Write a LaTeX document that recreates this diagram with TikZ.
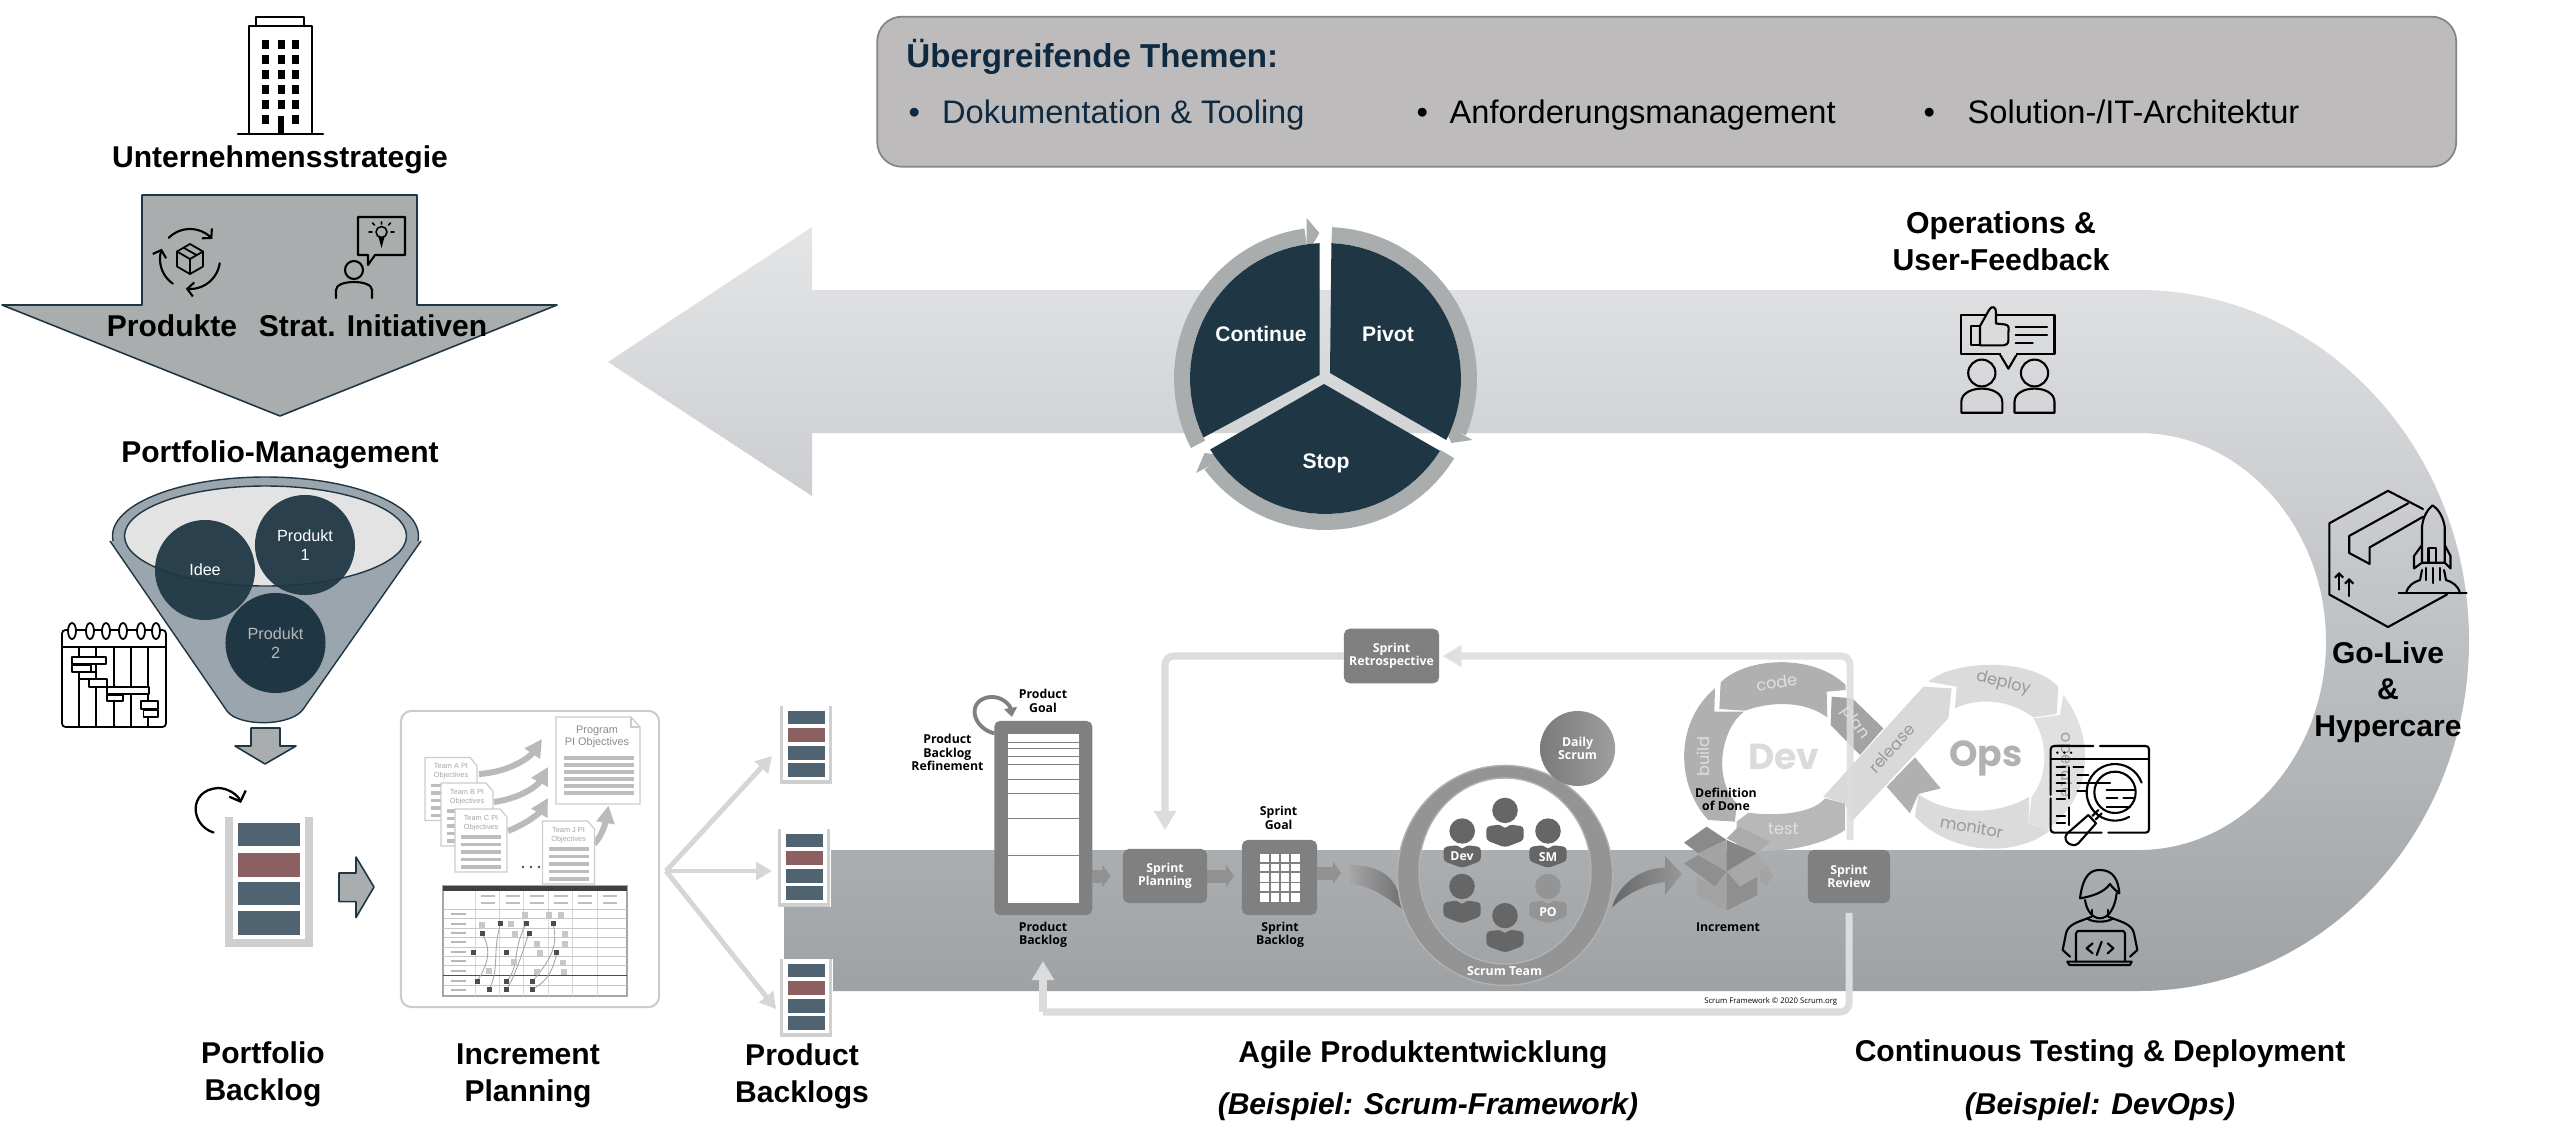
\documentclass[tikz,border=0pt]{standalone}
\usepackage{fontspec}
\setmainfont{Liberation Sans}
\newfontfamily\scrumfont{Open Sans}
\newfontfamily\devopsfont{Poppins}
\usetikzlibrary{arrows.meta}
\definecolor{navy}{HTML}{1F3744}
\definecolor{titleblue}{HTML}{0F2A40}
\definecolor{arrowgrey}{HTML}{A9ADAE}
\definecolor{funnelgrey}{HTML}{9AA5AD}
\definecolor{stackblue}{HTML}{4F6370}
\definecolor{stackred}{HTML}{8C6060}
\definecolor{stackedge}{HTML}{CFCFCF}
\definecolor{boxgrey}{HTML}{808080}
\definecolor{fbgrey}{HTML}{DCDCDC}
\definecolor{docgrey}{HTML}{BDBDBD}
\definecolor{themegrey}{HTML}{BDBBBC}
\definecolor{bandtop}{HTML}{E4E5E7}
\definecolor{bandbottom}{HTML}{9EA2A5}
\tikzset{
  lab/.style={font=\bfseries\fontsize{8.55}{10.5}\selectfont,inner sep=0pt,align=center,yshift=-1.1pt},
  labit/.style={font=\bfseries\itshape\fontsize{8.55}{10.5}\selectfont,inner sep=0pt,align=center,yshift=-.8pt},
  whitelab/.style={font=\bfseries\fontsize{6}{7}\selectfont,inner sep=0pt,text=white,yshift=-.3pt},
  topic/.style={font=\fontsize{9.27}{11}\selectfont,inner sep=0pt,anchor=base west},
  tinylab/.style={font=\scrumfont\bfseries\fontsize{3.5}{3.85}\selectfont,inner sep=0pt,align=center},
  scrumbox/.style={tinylab,text=white,fill=boxgrey,rounded corners=1.6pt,outer sep=0pt},
  doctext/.style={font=\fontsize{2.1}{2.5}\selectfont,inner sep=0pt,align=center,text=black!35},
  devlab/.style={font=\devopsfont\fontsize{4.6}{5}\selectfont,inner sep=0pt,text=white!88!black},
  icon/.style={line width=.6pt,line join=round,line cap=round},
  bigarrow/.style={fill=arrowgrey,draw=navy,line width=.45pt,line join=round},
  fbline/.style={draw=fbgrey,line width=2pt,rounded corners=2.5pt,-{Triangle[length=5.4pt,width=6pt]}},
  fanline/.style={draw=black!16,line width=1.4pt,-{Triangle[length=4.5pt,width=5pt]}},
  flow/.style={draw=black!43,line width=3.7pt,-{Triangle[length=2.3pt,width=6.3pt]}},
  docarrow/.style={draw=black!27,line width=1.7pt,-{Triangle[length=5pt,width=5pt]}},
}
\begin{document}
\begin{tikzpicture}[x=0.01cm,y=-0.01cm]
\useasboundingbox (0,0) rectangle (2560,1139);

\path (1666.7,91.7) node[draw=black!48,fill=themegrey,line width=.5pt,rounded corners=7pt,minimum width=15.78cm,minimum height=1.5cm] (themes){};
\path (905.7,67) node[topic,font=\bfseries\fontsize{9.42}{11}\selectfont,text=titleblue] (themetitle){Übergreifende Themen:};
\path (908,123) node[topic,text=titleblue] (bulletA){•};
\path (941.4,123) node[topic,text=titleblue] (topicA){Dokumentation \& Tooling};
\path (1416,123) node[topic] (bulletB){•};
\path (1449,123) node[topic] (topicB){Anforderungsmanagement};
\path (1923,123) node[topic] (bulletC){•};
\path (1967,123) node[topic] (topicC){Solution-/IT-Architektur};

\shade[top color=bandtop,bottom color=bandbottom] (608,362) -- (812,227) -- (812,290) -- (2139,290)
  .. controls (2321,290) and (2469,447) .. (2469,640.5) .. controls (2469,834) and (2321,991) .. (2139,991)
  -- (784,991) -- (784,850) -- (2139,850)
  .. controls (2242,850) and (2326,756) .. (2326,641.5) .. controls (2326,527) and (2242,433) .. (2139,433)
  -- (812,433) -- (812,496) -- cycle;

\foreach \ua/\ub in {207.3/98,87.5/-22,-31.8/-143} {
  \fill[arrowgrey] plot[domain=\ua:\ub,samples=30] ({1325.5+151.5*cos(\x)},{378.5-151.5*sin(\x)})
    -- plot[domain=\ub:\ua,samples=30] ({1325.5+135.5*cos(\x)},{378.5-135.5*sin(\x)}) -- cycle;
}
\fill[arrowgrey] (1306.6,218) -- (1319.4,233) -- (1306.6,255) -- cycle;
\fill[arrowgrey] (1441.8,422.7) -- (1451.4,443) -- (1472.4,440) -- cycle;
\fill[arrowgrey] (1228,456) -- (1204.6,453) -- (1196,473) -- cycle;
\fill[navy] (1319.5,375) -- plot[domain=205.8:92.5,samples=30] ({1325.5+135.5*cos(\x)},{378.5-135.5*sin(\x)}) -- cycle;
\fill[navy] (1330,373) -- plot[domain=87.5:-27,samples=30] ({1325.5+135.5*cos(\x)},{378.5-135.5*sin(\x)}) -- cycle;
\fill[navy] (1324,384) -- plot[domain=-32.3:-148.4,samples=30] ({1325.5+135.5*cos(\x)},{378.5-135.5*sin(\x)}) -- cycle;
\path (1261,333) node[whitelab] (continue){Continue};
\path (1388,333) node[whitelab] (pivot){Pivot};
\path (1326,462) node[whitelab] (stop){Stop};

\draw[icon,line width=.75pt] (249,134) -- (249,26) -- (312,26) -- (312,134);
\draw[icon,line width=.75pt] (256,26) -- (256,17) -- (304,17) -- (304,26);
\draw[icon,line width=.75pt] (238,134) -- (323,134);
\foreach \wx in {265,281,295} {
  \foreach \wy in {44,59,74,89,104,119} {
    \fill ({\wx-3.5},{\wy-4.5}) rectangle ({\wx+3.5},{\wy+4.5});
  }
}
\fill[white] (276,112) rectangle (286,124);
\fill (278,116) rectangle (284,134);
\path (280,156) node[lab] (strategy){Unternehmensstrategie};

\draw[bigarrow] (142,195) -- (417,195) -- (417,305) -- (557,305) -- (280,416) -- (2,305) -- (142,305) -- cycle;
\foreach \ua/\ub in {135/42,-8/-98,-125/-200} {
  \draw[icon,-{Straight Barb[length=1.8pt,width=4pt]}] plot[domain=\ua:\ub,samples=20] ({190+30*cos(\x)},{259-30*sin(\x)});
}
\draw[icon,line width=.5pt] (190,244) -- (203,251.5) -- (203,266.5) -- (190,274) -- (177,266.5) -- (177,251.5) -- cycle;
\draw[icon,line width=.5pt] (177,251.5) -- (190,259) -- (203,251.5) (190,259) -- (190,274) (183.5,247.7) -- (196.5,255);
\draw[icon] (354,270) circle [radius=9];
\draw[icon] (336,298) -- (336,290) .. controls (336,285) and (344,282) .. (354,282) .. controls (364,282) and (372,285) .. (372,290) -- (372,298);
\draw[icon] (358,255) -- (358,217) -- (405,217) -- (405,255) -- (375,255) -- (368,265) -- (368,255) -- cycle;
\draw[icon,line width=.45pt] (381.5,232) circle [radius=5.5];
\fill (378.5,237) -- (384.5,237) -- (381.5,248) -- cycle;
\draw[icon,line width=.45pt] (381.5,222) -- (381.5,224) (372,232) -- (369,232) (391,232) -- (394,232) (374.5,225) -- (372.5,223) (388.5,225) -- (390.5,223);
\path (172,322) node[lab] (products){Produkte};
\path (373,322) node[lab] (initiatives){Strat. Initiativen};
\path (280,451) node[lab] (portfolio){Portfolio-Management};

\draw[fill=funnelgrey,draw=navy,line width=.4pt] (265.5,536) ellipse [x radius=153,y radius=59];
\fill[funnelgrey] (110,541) -- (227,711) .. controls (238,727) and (293,727) .. (304,708) -- (421,541) -- cycle;
\draw[navy,line width=.4pt] (110,541) -- (227,711) .. controls (238,727) and (293,727) .. (304,708) -- (421,541);
\draw[fill=black!11,draw=navy,line width=.4pt] (265.5,536) ellipse [x radius=141,y radius=50];
\path (205,570) node[circle,minimum size=1cm,inner sep=0pt,fill=navy,fill opacity=.94,text opacity=1,text=white,font=\fontsize{4.6}{5.4}\selectfont,align=center] (idee){Idee};
\path (305,545) node[circle,minimum size=1cm,inner sep=0pt,fill=navy,fill opacity=.94,text opacity=1,text=white,font=\fontsize{4.6}{5.4}\selectfont,align=center] (prodA){Produkt\\1};
\path (275.5,643) node[circle,minimum size=1cm,inner sep=0pt,fill=navy,text=black!28,font=\fontsize{4.6}{5.4}\selectfont,align=center] (prodB){Produkt\\2};

\draw[icon,rounded corners=1pt,line width=.5pt] (62,630) rectangle (166,727);
\draw[icon,line width=.5pt] (62,647) -- (166,647);
\foreach \vx in {79,96,114,131,148} {
  \draw[icon,line width=.5pt] (\vx,647) -- (\vx,727);
}
\foreach \rx in {72,90,106,123,141,156} {
  \draw[icon,line width=.5pt,fill=white] (\rx,631) ellipse [x radius=4,y radius=8];
}
\foreach \xa/\ya/\xb/\yb in {72/657/106/664,72/665/91/672,79/672/96/679,89/679/107/687,107/687/149/694,107/695/123/701,141/701/158/709,143.5/710/158/717} {
  \draw[icon,line width=.5pt,fill=white] (\xa,\ya) rectangle (\xb,\yb);
}

\draw[bigarrow] (251,728) -- (280,728) -- (280,746) -- (296,746) -- (265,764) -- (235,746) -- (251,746) -- cycle;
\draw[icon,line width=.65pt,-{Straight Barb[length=2.4pt,width=5pt]}] (213.5,832.5) .. controls (190,825) and (188,790) .. (218,788) .. controls (228,788) and (238,795) .. (241,803);
\draw[stackedge,line width=2pt] (229,817) -- (229,943) -- (309,943) -- (309,817);
\foreach \by/\bh/\bc in {823/23/stackblue,852.5/24/stackred,882/23/stackblue,911/24/stackblue} {
  \fill[\bc] (238,\by) rectangle (300,{\by+\bh});
}
\draw[bigarrow] (339,873) -- (356,873) -- (356,857) -- (374,887) -- (356,917.5) -- (356,901.6) -- (339,901.6) -- cycle;
\path (263,1070.5) node[lab] (pfbacklog){Portfolio\\Backlog};

\path (530,859) node[draw=black!20,line width=.6pt,rounded corners=3pt,minimum width=2.58cm,minimum height=2.96cm] (planpanel){};
\coordinate (docAout) at (479,774);
\coordinate (docAin) at (542,739);
\coordinate (docBout) at (494,802);
\coordinate (docBin) at (548,767);
\coordinate (docCout) at (508,831);
\coordinate (docCin) at (548,798);
\coordinate (docJout) at (594,844);
\coordinate (docJin) at (608.5,805.5);
\draw[docarrow] (docAout) .. controls (510,772) and (530,757) .. (docAin);
\draw[docarrow] (docBout) .. controls (522,798) and (538,785) .. (docBin);
\draw[docarrow] (docCout) .. controls (530,822) and (540,812) .. (docCin);
\draw[docarrow] (docJout) .. controls (603,835) and (606,820) .. (docJin);
\foreach \dx/\dy/\dt/\dn in {425/757.5/Team A PI/teamA,441/783/Team B PI/teamB,455/809/Team C PI/teamC,542.5/821/Team J PI/teamJ} {
  \fill[white,draw=black!20,line width=.35pt] (\dx,\dy) -- ({\dx+45},\dy) -- ({\dx+52},{\dy+8}) -- ({\dx+52},{\dy+63}) -- (\dx,{\dy+63}) -- cycle;
  \foreach \lo in {28,35.5,43,50.5,58} {
    \draw[docgrey,line width=1pt] ({\dx+6},{\dy+\lo}) -- ({\dx+46},{\dy+\lo});
  }
  \path ({\dx+26},{\dy+14}) node[doctext] (\dn){\dt\\Objectives};
}
\fill[white,draw=black!20,line width=.35pt] (556,717) -- (631,717) -- (640,727) -- (640,804) -- (556,804) -- cycle;
\draw[black!20,line width=.35pt] (631,717) -- (631,727) -- (640,727);
\path (597,737) node[doctext,font=\fontsize{3.1}{3.6}\selectfont,text=black!45] (program){Program\\PI Objectives};
\foreach \ly in {758,765,772,779,786,793} {
  \draw[docgrey,line width=1.1pt] (564,\ly) -- (634,\ly);
}
\foreach \dotx in {523,531,539} {
  \fill[black!70] (\dotx,867) circle [radius=1.3];
}
\fill[white,draw=black!35,line width=.3pt] (443,886) rectangle (627,996);
\fill[black!75] (443,886) rectangle (627,891);
\foreach \cx in {475,499.5,523.5,548,572,597} {
  \draw[black!15,line width=.2pt] (\cx,891) -- (\cx,996);
  \draw[black!25,line width=.3pt] ({\cx+6},896) -- ({\cx+20},896) ({\cx+6},903) -- ({\cx+20},903);
}
\foreach \ry in {909,918,928,937,947,956,965.5,985} {
  \draw[black!22,line width=.25pt] (443,\ry) -- (627,\ry);
}
\draw[black!70,line width=.5pt] (443,975.4) -- (627,975.4);
\foreach \ry in {914,924,933,942,952,961,971,981,990} {
  \draw[black!28,line width=.3pt] (451,\ry) -- (466,\ry);
}
\draw[black!35,line width=.25pt] (482,933) .. controls (492,950) and (488,965) .. (477,981);
\draw[black!35,line width=.25pt] (500.6,924) .. controls (492,950) and (500,970) .. (489,989);
\draw[black!35,line width=.25pt] (526,924) .. controls (512,950) and (520,965) .. (507,981);
\draw[black!35,line width=.25pt] (529,933) .. controls (520,960) and (515,975) .. (507,989);
\draw[black!35,line width=.25pt] (553,924) .. controls (560,950) and (545,965) .. (533,981);
\draw[black!35,line width=.25pt] (557,952) .. controls (552,975) and (545,982) .. (533,989);
\foreach \sqx/\sqy in {525.3/914.5,549.4/914.5,560.9/914.5,482.2/924.8,510.9/923.7,515/933.7,565/933.7,565/944,537.3/944,540.2/953.2,514.4/961.8,563.2/962.5,489/971,536.7/971.8,563.8/972.2} {
  \fill[black!22] ({\sqx-3},{\sqy-3}) rectangle ({\sqx+3},{\sqy+3});
}
\foreach \sqx/\sqy in {500.6/923.7,526.4/923.7,553.4/923.7,482.2/933.3,529.3/933.3,473/952.2,506.9/952.2,556.8/952.2,477/981,506.9/981,532.7/981,489/989.1,506.9/989.1,532.7/989.1} {
  \fill[black!70] ({\sqx-2.5},{\sqy-2.5}) rectangle ({\sqx+2.5},{\sqy+2.5});
}
\path (528,1071.5) node[lab] (incplanning){Increment\\Planning};

\coordinate (fan) at (666,871);
\coordinate (fanA) at (772,756);
\coordinate (fanB) at (772,871);
\coordinate (fanC) at (776,1009);
\draw[fanline] (fan) -- (fanA);
\draw[fanline] (fan) -- (fanB);
\draw[fanline] (fan) -- (fanC);
\foreach \sx/\sy in {780/706,778/829,780/959} {
  \fill[white] (\sx,\sy) rectangle ({\sx+53},{\sy+78});
  \draw[stackedge,line width=1.1pt] ({\sx+1.5},\sy) -- ({\sx+1.5},{\sy+76}) -- ({\sx+50.5},{\sy+76}) -- ({\sx+50.5},\sy);
  \foreach \bo/\bc in {4.7/stackblue,22/stackred,40/stackblue,57/stackblue} {
    \fill[\bc] ({\sx+8},{\sy+\bo}) rectangle ({\sx+45},{\sy+\bo+13.7});
  }
}
\path (802,1072) node[lab] (prodbacklogs){Product\\Backlogs};

\begin{scope}[shift={(1670,640)},scale=0.3333]
\fill[black!31] (135,145) .. controls (10,250) and (20,440) .. (115,540) -- (195,545) -- (200,490) .. controls (130,420) and (150,270) .. (222,215) -- (133,215) -- cycle;
\fill[black!31] (148,207) -- (152,127) .. controls (230,50) and (430,40) .. (527,135) -- (527,150) -- (470,155) -- (472,232) .. controls (400,180) and (300,185) .. (225,212) -- cycle;
\fill[black!36] (485,170) -- (547,175) -- (640,265) -- (570,345) -- (482,255) -- cycle;
\fill[black!28] (235,518) .. controls (320,530) and (430,520) .. (465,475) -- (525,490) -- (525,570) .. controls (470,610) and (330,650) .. (200,625) -- (200,545) -- cycle;
\fill[black!31] (650,440) -- (735,352) -- (812,445) -- (745,462) -- (720,520) -- cycle;
\fill[black!15] (760,140) -- (845,145) -- (835,235) -- (545,545) -- (525,490) -- (460,470) -- cycle;
\fill[black!14] (775,125) .. controls (850,60) and (1080,50) .. (1165,140) -- (1160,222) -- (1090,232) .. controls (1020,180) and (930,170) .. (855,205) -- (860,140) -- cycle;
\fill[black!12] (1180,165) .. controls (1270,280) and (1280,460) .. (1130,570) -- (1075,548) -- (1085,470) .. controls (1140,400) and (1130,300) .. (1090,235) -- (1170,225) -- cycle;
\fill[black!14] (745,462) .. controls (830,525) and (980,530) .. (1078,470) -- (1075,550) -- (1140,572) .. controls (1040,650) and (850,650) .. (735,530) -- cycle;
\path (320,127) node[devlab,rotate=8] (code){code};
\path (555,250) node[devlab,rotate=-55] (plan){plan};
\path (100,350) node[devlab,rotate=90] (build){build};
\path (340,568) node[devlab] (test){test};
\path (665,325) node[devlab,rotate=48,text=black!40] (release){release};
\path (1000,130) node[devlab,rotate=-14,text=black!40] (deploy){deploy};
\path (905,560) node[devlab,rotate=-10,text=black!40] (monitor){monitor};
\path (1185,375) node[devlab,rotate=-90,text=black!38] (operate){operate};
\path (342,350) node[font=\devopsfont\bfseries\fontsize{10.3}{11}\selectfont,inner sep=0pt,text=black!14] (dev){Dev};
\path (947,355) node[font=\devopsfont\bfseries\fontsize{10.3}{11}\selectfont,inner sep=0pt,text=black!30] (ops){Ops};
\end{scope}

\path (1391.5,656) node[scrumbox,minimum width=.95cm,minimum height=.545cm] (retro){Sprint\\Retrospective};
\path (1165,876) node[scrumbox,minimum width=.84cm,minimum height=.54cm] (planning){Sprint\\Planning};
\path (1849,876.5) node[scrumbox,minimum width=.82cm,minimum height=.53cm] (review){Sprint\\Review};
\path (1043.3,818) node[fill=boxgrey,rounded corners=1.6pt,outer sep=0pt,minimum width=.98cm,minimum height=1.94cm] (pblbox){};
\fill[white] (1008,734) rectangle (1078.6,902.5);
\foreach \ly in {742.7,748.8,756.4,764.3,779.4,793.5,818.3,855.4} {
  \draw[black!50,line width=.3pt] (1008,\ly) -- (1078.6,\ly);
}
\path (1279.5,877.5) node[fill=boxgrey,rounded corners=1.6pt,outer sep=0pt,minimum width=.75cm,minimum height=.75cm] (sblbox){};
\fill[white] (1260,853.7) rectangle (1299.5,902);
\foreach \gx in {1270,1280,1290} {
  \draw[boxgrey,line width=.3pt] (\gx,853.7) -- (\gx,902);
}
\foreach \gy in {863,872,882.6,892} {
  \draw[boxgrey,line width=.3pt] (1260,\gy) -- (1299.5,\gy);
}
\draw[boxgrey,line width=1.1pt,-{Triangle[length=2.6pt,width=3.6pt]}] (994.4,733.4) .. controls (972,728) and (966,700) .. (990,697) .. controls (1002,696) and (1010,705) .. (1012,717);
\path (1043,700.8) node[tinylab] (pgoal){Product\\Goal};
\path (947.4,752.5) node[tinylab] (refine){Product\\Backlog\\Refinement};
\path (1043,935) node[tinylab] (pblabel){Product\\Backlog};
\path (1278.6,818) node[tinylab] (sgoal){Sprint\\Goal};
\path (1280,935) node[tinylab] (sblabel){Sprint\\Backlog};
\coordinate (teamin) at (1341,873);
\draw[flow,shorten >=1pt] (pblbox.east |- planning) -- (1114,876);
\draw[flow] (planning.east) -- (1234,876);
\draw[flow] (sblbox.east |- teamin) -- (teamin);

\shade[left color=black!35,right color=black!58] (1350,864.7) .. controls (1390,866) and (1395,885) .. (1400,896) -- (1407,912) .. controls (1395,905) and (1375,885) .. (1350,884) -- cycle;
\fill[even odd rule,fill=black!42,draw=black!30,line width=.4pt] (1505,875.4) ellipse [x radius=107.6,y radius=110] (1505,871) ellipse [x radius=86,y radius=93];
\path (1577.6,748.5) node[circle,minimum size=.75cm,inner sep=0pt,left color=black!52,right color=black!38,text=white,tinylab] (daily){Daily\\Scrum};
\foreach \px/\py/\pc in {1505/810.4/black!60,1462.2/831/black!60,1548/831/black!60,1462/886.4/black!60,1548/886.4/black!42,1505/915.6/black!60} {
  \fill[\pc] (\px,\py) ellipse [x radius=12.8,y radius=12.7];
  \fill[\pc,rounded corners=1pt] ({\px-18.7},{\py+16}) -- ({\px-4},{\py+14}) -- (\px,{\py+19}) -- ({\px+4},{\py+14}) -- ({\px+18.7},{\py+16}) -- ({\px+18.7},{\py+30}) -- (\px,{\py+37}) -- ({\px-18.7},{\py+30}) -- cycle;
}
\path (1462,856) node[tinylab,text=white] (devrole){Dev};
\path (1548,857) node[tinylab,text=white] (smrole){SM};
\path (1548,912) node[tinylab,text=white] (porole){PO};
\path (1504.6,971) node[tinylab,text=white] (scrumteam){Scrum Team};
\shade[left color=black!60,right color=black!40] (1612,907.6) .. controls (1618,885) and (1640,868) .. (1665,867.5) -- (1665,856) -- (1682,874) -- (1665,895) -- (1665,882) .. controls (1645,884) and (1625,895) .. (1612,907.6) -- cycle;

\begin{scope}[shift={(1680,820)},scale=0.3333]
\fill[black!46] (12,68) -- (80,20) -- (140,60) -- (55,100) -- cycle;
\fill[black!33] (140,55) -- (175,20) -- (270,65) -- (230,100) -- cycle;
\fill[black!36] (55,100) -- (140,60) -- (140,155) -- cycle;
\fill[black!48] (140,60) -- (230,100) -- (140,155) -- cycle;
\fill[black!44] (12,130) -- (55,105) -- (140,155) -- (105,200) -- cycle;
\fill[black!34] (140,155) -- (230,100) -- (270,145) -- (180,200) -- cycle;
\fill[black!36] (50,170) -- (105,200) -- (140,155) -- (140,272) -- (50,225) -- cycle;
\fill[black!44] (140,155) -- (180,200) -- (232,170) -- (232,225) -- (140,272) -- cycle;
\end{scope}
\coordinate (boxout) at (1760,876);
\draw[flow,draw=black!36,shorten >=10pt] (boxout) -- (review.west);
\path (1726,799.5) node[tinylab] (dod){Definition\\of Done};
\path (1728,926.7) node[tinylab] (increment){Increment};

\coordinate (fbA) at (1850,840);
\coordinate (fbB) at (1043,1012);
\coordinate (fbC) at (1043,961);
\draw[fbline,shorten >=1pt,opacity=.85] (fbA) |- (retro.east);
\draw[fbline,shorten >=5.4pt] (retro.west) -| (planning.north);
\draw[fbline,-,shorten <=2.8pt] (review.south) |- (fbB);
\draw[fbline] (fbB) -- (fbC);
\path (1770.7,1001.5) node[font=\scrumfont\fontsize{2.2}{3}\selectfont,inner sep=0pt] (copyright){Scrum Framework © 2020 Scrum.org};

\path (1423,1051) node[lab] (agile){Agile Produktentwicklung};
\path (1428,1103.6) node[labit] (scrumex){(Beispiel: Scrum-Framework)};
\path (2100,1050) node[lab] (continuous){Continuous Testing \& Deployment};
\path (2100,1103.6) node[labit] (devopsex){(Beispiel: DevOps)};

\path (2001,237.5) node[lab,font=\bfseries\fontsize{8.6}{10.5}\selectfont] (operations){Operations \&\\User-Feedback};
\draw[icon] (1961.4,314.7) rectangle (2054.5,354);
\draw[icon,fill=black!14] (1999.7,354) -- (2008.4,368.7) -- (2017,354);
\draw[black!14,line width=.7pt] (2000.5,354) -- (2016.3,354);
\draw[icon] (1970.6,326) rectangle (1980,345.3);
\draw[icon,fill=black!14] (1980,326) -- (1989,310) .. controls (1992,305) and (1996,307) .. (1996,312) -- (1996,323.5) -- (2005,324.5) .. controls (2009,325) and (2009,328) .. (2008.4,332) -- (2008.4,340.7) .. controls (2008,344) and (2006,345.3) .. (2003.6,345.3) -- (1980,345.3) -- cycle;
\draw[icon] (2015.7,327.3) -- (2047,327.3) (2015.7,335) -- (2047,335) (2015.7,342.6) -- (2032.7,342.6);
\foreach \ux/\uw in {1981.8/20.5,2034.5/20} {
  \draw[icon] (\ux,373) ellipse [x radius=13.6,y radius=13.4];
  \draw[icon] ({\ux-\uw},412.7) -- ({\ux-\uw},402) .. controls ({\ux-\uw},393) and ({\ux-10},388.6) .. (\ux,388.6) .. controls ({\ux+10},388.6) and ({\ux+\uw},393) .. ({\ux+\uw},402) -- ({\ux+\uw},412.7) -- cycle;
}

\draw[icon] (2423,509) -- (2388,490.8) -- (2329.3,523.3) -- (2329.3,594.5) -- (2388,627) -- (2447,594.5);
\draw[icon] (2408,503.4) -- (2349.2,535.9) -- (2349.2,553) -- (2369.6,563.9) -- (2369.6,547.4) -- (2423,516.8);
\draw[icon,-{Straight Barb[length=1.2pt,width=2.4pt]}] (2339,589.5) -- (2339,572);
\draw[icon,-{Straight Barb[length=1.2pt,width=2.4pt]}] (2349.2,596) -- (2349.2,578);
\draw[icon] (2422,562.7) -- (2422,527) .. controls (2423,516) and (2428,509) .. (2432.6,505.3) .. controls (2438,509) and (2443,516) .. (2444.7,527) -- (2444.7,562.7) -- cycle;
\draw[icon] (2422,545) -- (2414,556) -- (2414,568.4) -- (2422,562.7) (2444.7,545) -- (2450.5,556) -- (2450.5,568.4) -- (2444.7,562.7);
\draw[icon] (2428.5,562.7) -- (2428.5,548) -- (2436,548) -- (2436,562.7);
\draw[icon] (2426,568) -- (2426,580) (2433,568) -- (2433,583) (2440,568) -- (2440,580);
\draw[icon] (2406,593.3) .. controls (2408,585) and (2414,582) .. (2420,580) -- (2422,570) (2444,570) -- (2446,580) .. controls (2452,582) and (2458,585) .. (2460,593.3);
\draw[icon] (2398.6,593.3) -- (2466.5,593.3);
\path (2388,688) node[lab,font=\bfseries\fontsize{8.55}{10.4}\selectfont] (golive){Go-Live\\\&\\Hypercare};

\begin{scope}[shift={(2030,730)},scale=0.3333]
\draw[icon] (190,48) -- (72,48) .. controls (66,48) and (62,52) .. (62,58) -- (62,195) (62,205) -- (62,298) .. controls (62,304) and (66,308) .. (72,308) -- (215,308) (235,308) -- (347,308) .. controls (353,308) and (357,304) .. (357,298) -- (357,58) .. controls (357,52) and (353,48) .. (347,48) -- (210,48);
\draw[icon] (62,88) -- (357,88);
\foreach \dotx in {82,103,123} {
  \fill (\dotx,68) circle [radius=4];
}
\draw[icon] (80,112) -- (105,112) (130,112) -- (160,112) (80,135) -- (105,135) (142,135) -- (175,135) (80,158) -- (105,158) (142,158) -- (240,158) (80,183) -- (105,183) (142,183) -- (170,183) (80,207) -- (105,207) (80,258) -- (105,258) (80,280) -- (105,280);
\draw[icon] (118,112) -- (118,205) (118,232) -- (118,285);
\draw[icon] (255,187) circle [radius=62];
\draw[icon] plot[domain=20:300,samples=30] ({255+85*cos(\x)},{187-85*sin(\x)});
\draw[icon] (205,240) -- (187,258) (215,250) -- (197,268);
\draw[icon] (175,255) -- (198,280) -- (145,340) .. controls (135,350) and (118,345) .. (110,335) .. controls (105,325) and (105,318) .. (112,310) -- cycle;
\draw[icon] (230,180) -- (315,180) (230,205) -- (262,205) (280,205) -- (310,205) (230,232) -- (300,232);
\draw[icon] (150,505) .. controls (160,425) and (190,420) .. (210,420) .. controls (250,420) and (265,450) .. (268,490) .. controls (255,480) and (245,470) .. (240,462) .. controls (220,490) and (180,500) .. (150,505) -- cycle;
\draw[icon] (165,510) .. controls (170,545) and (190,565) .. (210,565) .. controls (235,565) and (255,535) .. (260,490);
\draw[icon] (185,540) -- (185,560) (235,540) -- (235,560);
\draw[icon] (172,566) .. controls (190,578) and (230,578) .. (248,566);
\draw[icon] (185,560) .. controls (150,575) and (115,580) .. (108,610) -- (98,660) -- (120,680);
\draw[icon] (235,560) .. controls (270,575) and (305,580) .. (312,610) -- (322,660) -- (300,680);
\draw[icon] (138,695) -- (138,610) -- (143,603) -- (280,603) -- (285,610) -- (285,695);
\draw[icon] (112,695) -- (305,695) -- (300,705) -- (118,705) -- cycle;
\draw[icon] (188,640) -- (170,655) -- (188,670) (233,640) -- (250,655) -- (233,670) (215,635) -- (200,675);
\end{scope}
\end{tikzpicture}
\end{document}
